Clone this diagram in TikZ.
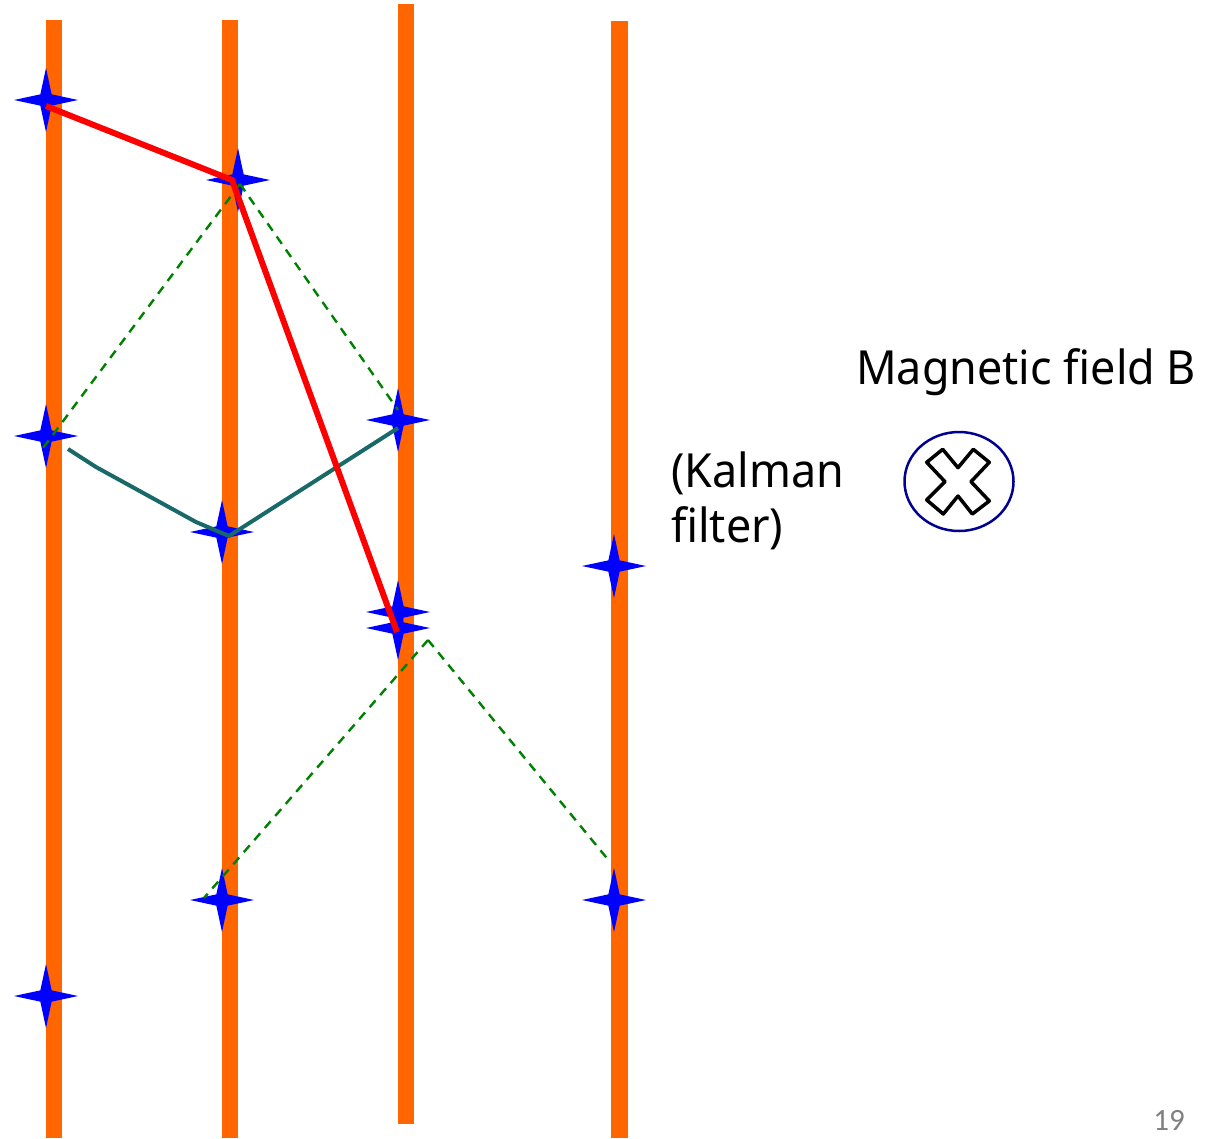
\documentclass[tikz,border=0pt]{standalone}
\usepackage{fontspec}
\setmainfont[FakeStretch=0.955]{Noto Sans}
\newfontfamily\pagefont{Carlito}
\usetikzlibrary{shapes.geometric}
\definecolor{barorange}{RGB}{255,102,0}
\definecolor{hitblue}{RGB}{0,0,255}
\definecolor{fitteal}{RGB}{25,105,105}
\definecolor{fieldblue}{RGB}{0,0,145}

\begin{document}
\begin{tikzpicture}[x=1pt, y=-1pt,
  bar/.style={fill=barorange, inner sep=0pt, minimum width=16.5pt},
  hit/.style={star, star points=4, star point ratio=4, fill=hitblue, inner sep=0pt, minimum size=64pt},
  track/.style={red, line width=6pt},
  guess/.style={green!50!black, line width=2.4pt, dash pattern=on 9pt off 7pt},
  fit/.style={fitteal, line width=4pt},
  label/.style={inner sep=0pt, anchor=base west, font=\fontsize{47}{55}\selectfont}]
  \useasboundingbox (0,0) rectangle (1220,1138);
  % detector layers
  \node[bar, minimum height=1118pt] (layera) at (54,579) {};
  \node[bar, minimum height=1118pt] (layerb) at (230,579) {};
  \node[bar, minimum height=1120pt] (layerc) at (406,564) {};
  \node[bar, minimum height=1117pt] (layerd) at (619.5,579.5) {};
  % hits
  \node[hit] (a1) at (46,100) {};
  \node[hit] (a2) at (46,436) {};
  \node[hit] (a3) at (46,996) {};
  \node[hit] (b1) at (238,180) {};
  \node[hit] (b2) at (222,532) {};
  \node[hit] (b3) at (222,900) {};
  \node[hit] (c1) at (398,420) {};
  \node[hit] (c2) at (398,612) {};
  \node[hit] (c3) at (398,628) {};
  \node[hit] (d1) at (614,566) {};
  \node[hit] (d2) at (614,900) {};
  % free ends of the lines
  \coordinate (redstart) at (46,106);
  \coordinate (redknee) at (232,180);
  \coordinate (redend) at (397,632);
  \coordinate (upper) at (240,184);
  \coordinate (upperl) at (40,452);
  \coordinate (upperr) at (398,410);
  \coordinate (lower) at (428,640);
  \coordinate (lowerl) at (204,898);
  \coordinate (lowerr) at (610,862);
  \coordinate (fita) at (68,449);
  \coordinate (fitb) at (96,467);
  \coordinate (fitc) at (196,522);
  \coordinate (fitd) at (229,536);
  \coordinate (fite) at (398,428);
  % candidates
  \draw[guess] (upper) -- (upperl);
  \draw[guess] (upper) -- (upperr);
  \draw[guess] (lower) -- (lowerl);
  \draw[guess] (lower) -- (lowerr);
  \draw[fit] (fita) -- (fitb) -- (fitc) -- (fitd) -- (fite);
  \draw[track] (redstart) -- (redknee) -- (redend);
  % field symbol
  \node[draw=fieldblue, line width=2.5pt, ellipse, inner sep=0pt, minimum width=109pt, minimum height=99pt] (field) at (959,481.5) {};
  \draw[line width=3.5pt, line join=round] (942.7,449.3) -- (958,467.7) -- (973.3,449.3) -- (989.3,462.3)
    -- (971,481.7) -- (989.3,501) -- (972.3,514) -- (958,496) -- (943.3,514) -- (926.7,500)
    -- (945,481.7) -- (926.7,462.3) -- cycle;
  % labels
  \node[label] (bfield) at (856,384) {Magnetic field B};
  \node[label] (kalman) at (671,487) {(Kalman};
  \node[label] (filter) at (671,542) {filter)};
  \node[inner sep=0pt, anchor=base east, text=gray, font=\pagefont\fontsize{31}{36}\selectfont] (page) at (1185,1130) {19};
\end{tikzpicture}
\end{document}
